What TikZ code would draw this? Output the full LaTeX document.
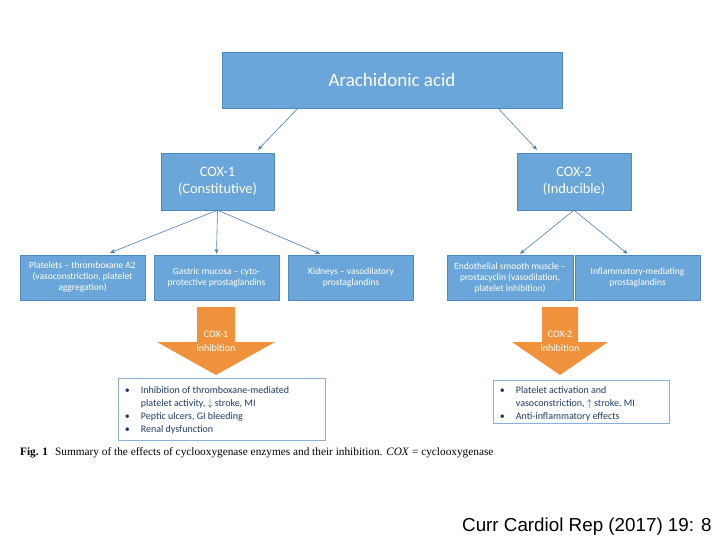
\documentclass[tikz,border=0pt]{standalone}
\usepackage{fontspec}
\setmainfont{Carlito}
\newfontfamily\captionfont{Liberation Serif}
\newfontfamily\footfont{Liberation Sans}
\usetikzlibrary{arrows.meta,calc}

\definecolor{boxblue}{HTML}{6AA6DA}
\definecolor{boxline}{HTML}{5089BE}
\definecolor{connblue}{HTML}{4A7EBB}
\definecolor{inhorange}{HTML}{F0923C}
\definecolor{listline}{HTML}{8DB0D6}
\definecolor{listnavy}{HTML}{1F3A68}

\newcommand\bul{\makebox[16pt][l]{\textbullet}}
\newcommand\ind{\hspace*{16pt}}

\begin{document}
\begin{tikzpicture}[x=1pt, y=-1pt,
    bluebox/.style={draw=boxline, fill=boxblue, text=white, align=center, inner sep=2pt},
    lowbox/.style={bluebox, minimum width=125pt, minimum height=45pt, font=\fontsize{9.5}{11}\selectfont},
    conn/.style={draw=connblue, line width=0.6pt, -{Stealth[length=5pt,width=4pt]}},
    listbox/.style={draw=listline, fill=white, line width=0.6pt},
    listtext/.style={text=listnavy, align=left, inner sep=0pt, anchor=north west, font=\fontsize{10}{13}\selectfont}]
\useasboundingbox[fill=white] (0,0) rectangle (720,540);

\node[bluebox, minimum width=340pt, minimum height=56pt, font=\fontsize{19}{22}\selectfont] (aa) at (392,80) {Arachidonic acid};
\node[bluebox, minimum width=113pt, minimum height=57pt, font=\fontsize{14.4}{17}\selectfont] (cox1) at (217.5,181.5) {COX-1\\(Constitutive)};
\node[bluebox, minimum width=114pt, minimum height=57pt, font=\fontsize{14.4}{17}\selectfont] (cox2) at (574,181.5) {COX-2\\(Inducible)};

\node[lowbox] (platelets) at (82.5,277.5) {Platelets -- thromboxane A2\\(vasoconstriction, platelet\\aggregation)};
\node[lowbox] (gastric) at (216.5,277.5) {Gastric mucosa -- cyto-\\protective prostaglandins};
\node[lowbox] (kidneys) at (351,277.5) {Kidneys -- vasodilatory\\prostaglandins};
\node[lowbox, minimum width=126pt] (endo) at (510,277.5) {Endothelial smooth muscle --\\prostacyclin (vasodilation,\\platelet inhibition)};
\node[lowbox] (inflam) at (637.5,277.5) {Inflammatory-mediating\\prostaglandins};

\draw[conn] ([xshift=-94pt]aa.south) -- ([xshift=40.5pt,yshift=3pt]cox1.north);
\draw[conn] ([xshift=106pt]aa.south) -- ([xshift=-37pt,yshift=3pt]cox2.north);
\draw[conn] (cox1.south) -- ([xshift=27.5pt,yshift=2pt]platelets.north);
\draw[conn] (cox1.south) -- ([yshift=1pt]gastric.north);
\draw[conn] (cox1.south) -- ([xshift=-31pt,yshift=1pt]kidneys.north);
\draw[conn] (cox2.south) -- ([xshift=10pt,yshift=1pt]endo.north);
\draw[conn] (cox2.south) -- ([xshift=-10pt,yshift=1pt]inflam.north);

\foreach \cx/\sw/\hw/\num in {216/19/59/1, 560/18/48/2} {
  \fill[inhorange] ({\cx-\sw},307) -- ({\cx+\sw},307) -- ({\cx+\sw},342) -- ({\cx+\hw},342)
    -- (\cx,375) -- ({\cx-\hw},342) -- ({\cx-\sw},342) -- cycle;
  \node[text=white, align=center, font=\fontsize{10}{14}\selectfont] (inh\num) at (\cx,341) {COX-\num\\inhibition};
}

\node[listbox, minimum width=207pt, minimum height=62pt] (effects1) at (221.5,409) {};
\node[listbox, minimum width=176pt, minimum height=43pt] (effects2) at (581,401.5) {};
\node[listtext] (list1) at ($(effects1.north west)+(7,9)$) {\bul Inhibition of thromboxane-mediated\\\ind platelet activity, $\downarrow$ stroke, MI\\\bul Peptic ulcers, GI bleeding\\\bul Renal dysfunction};
\node[listtext] (list2) at ($(effects2.north west)+(7,7)$) {\bul Platelet activation and\\\ind vasoconstriction, $\uparrow$ stroke, MI\\\bul Anti-inflammatory effects};

\node[anchor=base west, inner sep=0pt, font=\captionfont\fontsize{11.3}{13}\selectfont] (caption) at (20,455) {\textbf{Fig. 1}\hspace{7pt}Summary of the effects of cyclooxygenase enzymes and their inhibition. \textit{COX} = cyclooxygenase};
\node[anchor=base west, inner sep=0pt, font=\footfont\fontsize{18.8}{22}\selectfont] (source) at (462,531) {Curr Cardiol Rep (2017) 19: 8};
\end{tikzpicture}
\end{document}
